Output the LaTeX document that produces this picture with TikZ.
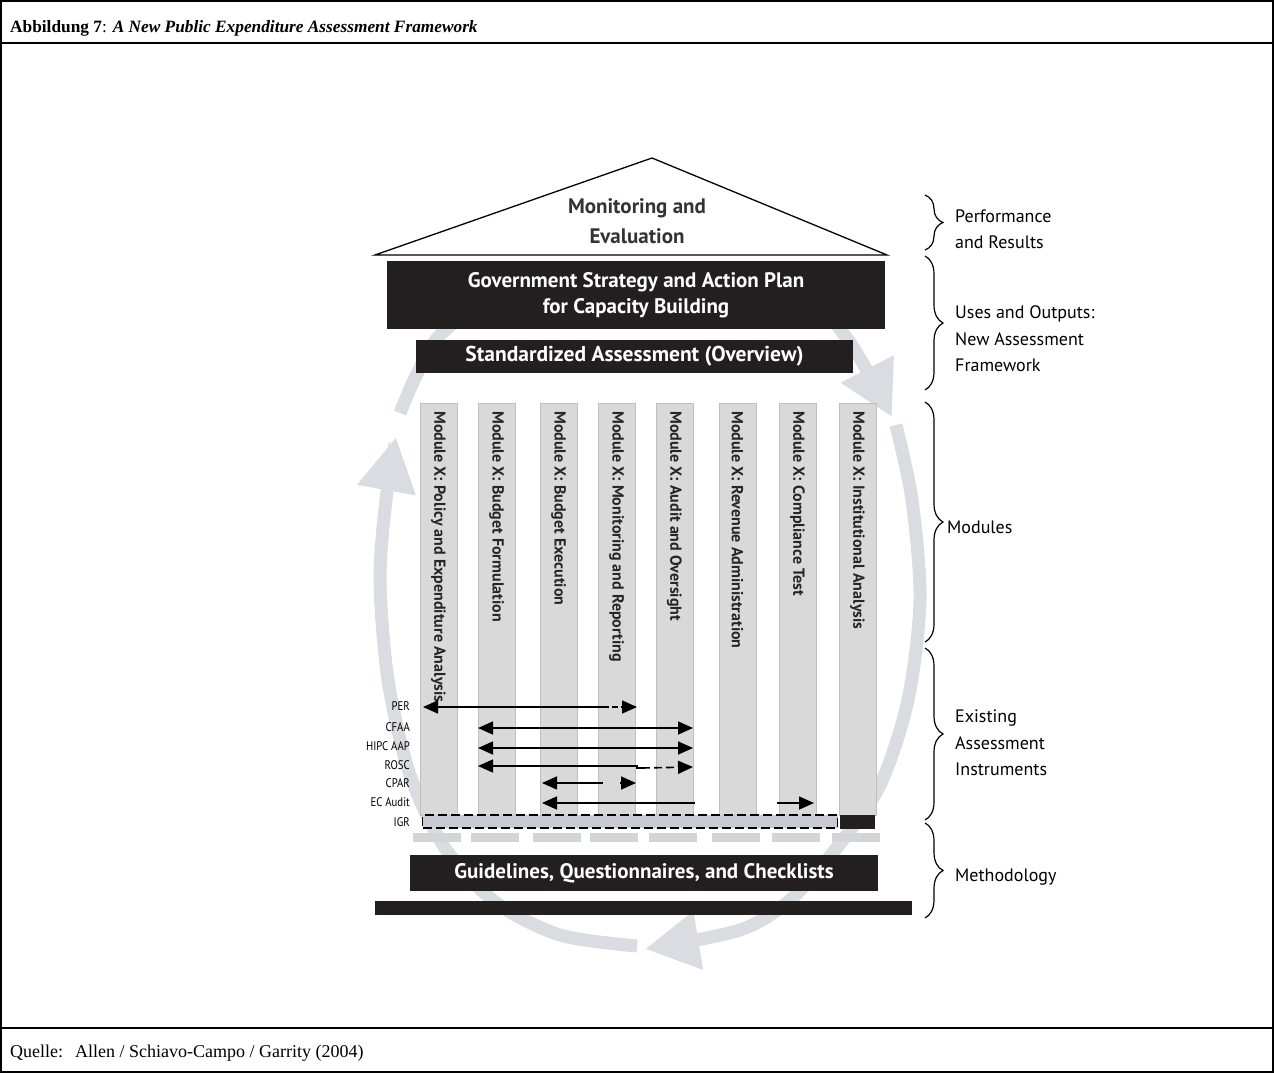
\documentclass[tikz,border=0pt]{standalone}
\usepackage{fontspec}
\setmainfont{Liberation Serif}
\newfontfamily\diag{PT Sans}
\newfontfamily\diagnarrow[FakeStretch=0.86]{PT Sans}
\usetikzlibrary{arrows.meta}
\usetikzlibrary{decorations.pathreplacing}
\definecolor{boxblack}{HTML}{231F20}
\definecolor{ringgray}{HTML}{D9DCE0}
\definecolor{colgray}{HTML}{D9D9D9}
\definecolor{igrgray}{HTML}{C9CAD4}
\definecolor{basegray}{HTML}{D3D6D9}
\tikzset{>={Triangle[length=15pt,width=13pt]}}
\tikzset{
  blackbox/.style={fill=boxblack, text=white, inner sep=0pt, align=center,
    font=\diag\bfseries\fontsize{21}{26}\selectfont},
  module/.style={fill=colgray, draw=black!25, line width=0.6pt, inner sep=0pt,
    minimum width=37pt, minimum height=412pt, anchor=north west},
  modtext/.style={rotate=-90, anchor=west, inner sep=0pt, text=black!85,
    font=\diag\bfseries\fontsize{16}{18}\selectfont},
  basebar/.style={fill=basegray, inner sep=0pt, minimum width=48pt, minimum height=9pt},
  instr/.style={anchor=east, inner sep=0pt, font=\diagnarrow\fontsize{12.5}{14}\selectfont},
  instrline/.style={line width=1.6pt},
  ring/.style={draw=ringgray, line width=13pt, -{Triangle[length=54pt,width=56pt]}},
  sidebrace/.style={decorate, decoration={brace, amplitude=18pt}, line width=1.2pt},
  sidetext/.style={anchor=west, align=left, inner sep=0pt,
    font=\diag\fontsize{18}{26.5}\selectfont},
  frametext/.style={anchor=base west, inner sep=0pt},
}
\begin{document}
\begin{tikzpicture}[x=1pt, y=-1pt]
  \useasboundingbox (0,0) rectangle (1274,1073);

  % frame, title and source
  \draw[line width=1.6pt] (1,1) rectangle (1273,1072);
  \draw[line width=1.6pt] (1,43) -- (1273,43);
  \draw[line width=1.6pt] (1,1028) -- (1273,1028);
  \node[frametext, font=\fontsize{17.3}{20}\selectfont] (title) at (10,33)
    {\textbf{Abbildung 7}:\hspace{6pt}\textbf{\textit{A New Public Expenditure Assessment Framework}}};
  \node[frametext, font=\fontsize{18}{20}\selectfont] (quelle) at (10,1057) {Quelle:};
  \node[frametext, font=\fontsize{18}{20}\selectfont] (source) at (75,1057)
    {Allen / Schiavo-Campo / Garrity (2004)};

  % the cycle behind the house
  \draw[ring] plot[smooth] coordinates {(637,946) (560,935) (495,902) (445,848)
    (410,775) (388,680) (380,580) (386,500) (396,437)};
  \draw[ring] plot[smooth] coordinates {(400,413) (416,376) (442,333) (505,295)
    (650,280) (795,295) (846,337) (892,417)};
  \draw[ring] plot[smooth] coordinates {(896,425) (912,500) (920,600) (908,700)
    (880,785) (835,850) (790,900) (740,930) (645,949)};

  % roof
  \coordinate (roofl) at (375,255);
  \coordinate (rooft) at (652,158);
  \coordinate (roofr) at (887,255);
  \draw[line width=1.3pt, fill=white] (roofl) -- (rooft) -- (roofr) -- cycle;
  \node[align=center, text=black!80, font=\diag\bfseries\fontsize{21}{30}\selectfont]
    (monitor) at (637,221) {Monitoring and\\Evaluation};

  \node[blackbox, minimum width=498pt, minimum height=68pt] (strategy) at (636,295)
    {Government Strategy and Action Plan\\for Capacity Building};
  \node[blackbox, minimum width=437pt, minimum height=33pt,
    font=\diag\bfseries\fontsize{21.5}{26}\selectfont] (overview) at (634.5,356.5)
    {Standardized Assessment (Overview)};

  % modules
  \foreach \x/\txt [count=\i] in {420/Policy and Expenditure Analysis,
      478/Budget Formulation, 540/Budget Execution, 598/Monitoring and Reporting,
      656/Audit and Oversight, 719/Revenue Administration, 779/Compliance Test,
      839/Institutional Analysis} {
    \node[module] (col\i) at (\x,403) {};
    \node[modtext] (mod\i) at ({\x+18.5},411) {Module X: \txt};
  }

  % existing instruments
  \node[instr] (per) at (410,706) {PER};
  \node[instr] (cfaa) at (410,727) {CFAA};
  \node[instr] (hipc) at (410,746) {HIPC AAP};
  \node[instr] (rosc) at (410,765) {ROSC};
  \node[instr] (cpar) at (410,783) {CPAR};
  \node[instr] (ecaudit) at (410,802) {EC Audit};
  \node[instr] (igrlabel) at (410,822) {IGR};

  \coordinate (per-a) at (423,707);  \coordinate (per-m) at (603,707);
  \coordinate (per-b) at (637,707);
  \coordinate (cfaa-a) at (478,728); \coordinate (cfaa-b) at (693,728);
  \coordinate (hipc-a) at (478,748); \coordinate (hipc-b) at (693,748);
  \coordinate (rosc-a) at (478,766); \coordinate (rosc-m) at (637,766);
  \coordinate (rosc-n) at (642,768); \coordinate (rosc-b) at (693,767);
  \coordinate (cpar-a) at (542,783); \coordinate (cpar-m) at (603,783);
  \coordinate (cpar-n) at (620,783); \coordinate (cpar-b) at (636,783);
  \coordinate (ec-a) at (542,803);   \coordinate (ec-m) at (695,803);
  \coordinate (ec-n) at (777,803);   \coordinate (ec-b) at (814,803);

  \draw[instrline, <-] (per-a) -- (per-m);
  \draw[instrline, dash pattern=on 6pt off 3pt, ->] (per-m) -- (per-b);
  \draw[instrline, <->] (cfaa-a) -- (cfaa-b);
  \draw[instrline, <->] (hipc-a) -- (hipc-b);
  \draw[instrline, <-] (rosc-a) -- (rosc-m) |- (rosc-n);
  \draw[instrline, dash pattern=on 8pt off 4pt, ->] (rosc-n) -- (rosc-b);
  \draw[instrline, <-] (cpar-a) -- (cpar-m);
  \draw[instrline, ->] (cpar-n) -- (cpar-b);
  \draw[instrline, <-] (ec-a) -- (ec-m);
  \draw[instrline, ->] (ec-n) -- (ec-b);

  \node[fill=igrgray, draw, dash pattern=on 9pt off 4pt, line width=1.3pt, inner sep=0pt,
    minimum width=415pt, minimum height=13pt] (igr) at (630,821.5) {};
  \node[fill=boxblack, inner sep=0pt, minimum width=35pt, minimum height=14pt]
    (igrend) at (857.5,822) {};

  % base and methodology
  \foreach \x [count=\i] in {437,495,557,614,673,736,796,856}
    \node[basebar] (base\i) at (\x,837.5) {};
  \node[blackbox, minimum width=468pt, minimum height=36pt] (guide) at (644,873)
    {Guidelines, Questionnaires, and Checklists};
  \node[fill=boxblack, inner sep=0pt, minimum width=537pt, minimum height=14pt]
    (floor) at (643.5,908) {};

  % levels on the right
  \draw[sidebrace] (925,195) -- (925,250);
  \draw[sidebrace] (925,256) -- (925,390);
  \draw[sidebrace] (925,402) -- (925,642);
  \draw[sidebrace] (925,648) -- (925,820);
  \draw[sidebrace] (925,823) -- (925,918);
  \node[sidetext] (perf) at (955,229) {Performance\\and Results};
  \node[sidetext] (uses) at (955,339) {Uses and Outputs:\\New Assessment\\Framework};
  \node[sidetext] (mods) at (947,527) {Modules};
  \node[sidetext] (exist) at (955,743) {Existing\\Assessment\\Instruments};
  \node[sidetext] (meth) at (955,877) {Methodology};
\end{tikzpicture}
\end{document}
